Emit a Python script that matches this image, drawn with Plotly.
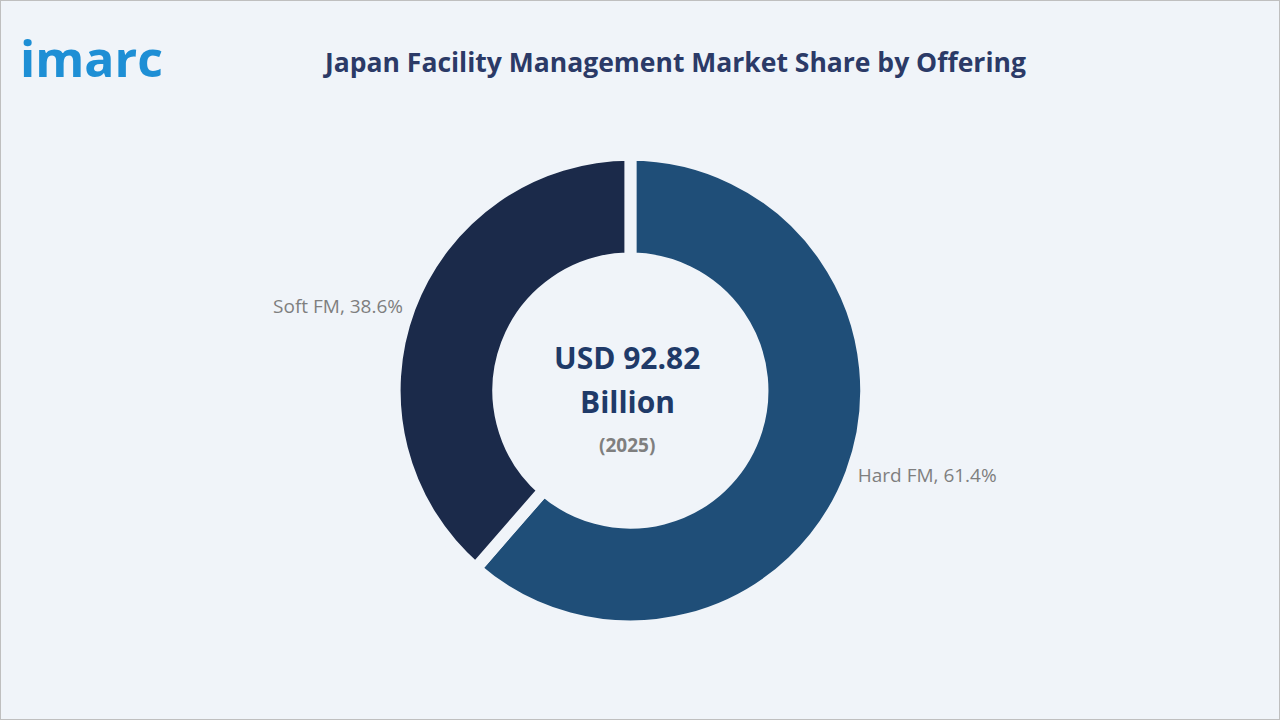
import plotly.graph_objects as go

segments = ["Hard FM", "Soft FM"]
shares = [61.4, 38.6]
colors = ["#1F4E78", "#1B2A4A"]
bg = "#F0F4F9"

fig = go.Figure(go.Pie(
    labels=segments, values=shares, hole=0.56, sort=False, direction="clockwise", rotation=0,
    marker=dict(colors=colors, line=dict(color=bg, width=12)),
    texttemplate="%{label}, %{value:.1f}%", textposition="outside",
    outsidetextfont=dict(color="#7F7F7F", size=19, family="Open Sans"),
    domain=dict(x=[0.307, 0.678], y=[0.13, 0.785]), showlegend=False,
))

fig.update_layout(
    width=1280, height=720, paper_bgcolor=bg, plot_bgcolor=bg,
    margin=dict(l=0, r=0, t=0, b=0),
    annotations=[
        dict(text="<b>Japan Facility Management Market Share by Offering</b>", x=0.527, y=0.942,
             xref="paper", yref="paper", showarrow=False, font=dict(size=26.5, color="#2B3A67", family="Open Sans")),
        dict(text="<b>imarc</b>", x=0.014, y=0.97, xanchor="left", xref="paper", yref="paper", showarrow=False,
             font=dict(size=50, color="#1E8FD5", family="Open Sans")),
        dict(text="<b>USD 92.82</b>", x=0.49, y=0.504, xref="paper", yref="paper", showarrow=False,
             font=dict(size=30, color="#1F3A68", family="Open Sans")),
        dict(text="<b>Billion</b>", x=0.49, y=0.442, xref="paper", yref="paper", showarrow=False,
             font=dict(size=30, color="#1F3A68", family="Open Sans")),
        dict(text="<b>(2025)</b>", x=0.49, y=0.382, xref="paper", yref="paper", showarrow=False,
             font=dict(size=19, color="#7F7F7F", family="Open Sans")),
    ],
    shapes=[dict(type="rect", xref="paper", yref="paper", x0=0, y0=0, x1=1, y1=1,
                 line=dict(color="#BFBFBF", width=2))],
)

fig.write_html("out.html", config={"displayModeBar": False},
               post_script="document.body.style.margin='0';")
